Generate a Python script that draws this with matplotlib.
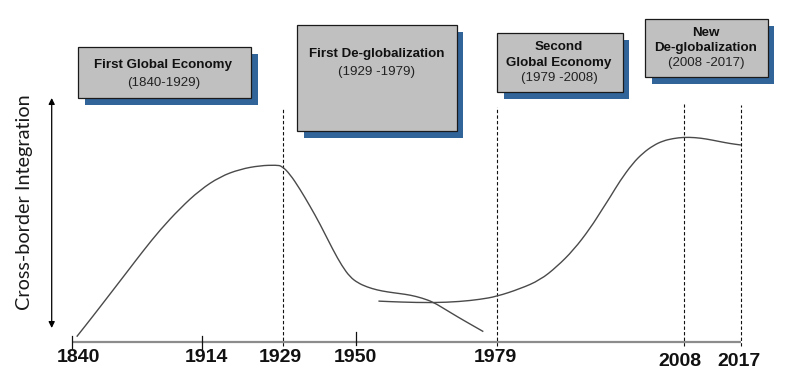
import numpy as np
import matplotlib
matplotlib.use("Agg")
import matplotlib.pyplot as plt
from matplotlib.patches import Rectangle, PathPatch
from matplotlib.path import Path
from matplotlib.transforms import IdentityTransform

# ---------------- data ----------------
tick_years = [1840, 1914, 1929, 1950, 1979, 2008, 2017]
tick_labels = ["1840", "1914", "1929", "1950", "1979", "2008", "2017"]
# relative position of each year along the drawn (non-linear) timeline
timeline_pos = [0, 129.5, 211, 283.5, 425, 611.5, 669]

# first curve: first global economy and de-globalization (index 0-100)
curve1_years = [1842.7, 1852.0, 1861.7, 1871.4, 1880.6, 1890.3, 1901.7, 1913.1,
                1917.4, 1921.1, 1924.8, 1927.8, 1928.8, 1931.0, 1933.9, 1936.8,
                1939.7, 1943.5, 1946.1, 1948.4, 1950.5, 1952.4, 1954.4, 1956.5,
                1959.1, 1961.2, 1963.6, 1965.9, 1968.3, 1971.0, 1973.5, 1976.2]
curve1_vals = [2.2, 10.7, 19.8, 28.9, 37.6, 46.3, 55.2, 62.8,
               68.3, 71.4, 72.9, 73.1, 72.7, 69.4, 63.2, 56.2,
               48.8, 38.0, 31.4, 26.9, 24.4, 22.7, 21.5, 20.7,
               20.0, 19.4, 18.2, 16.5, 13.6, 10.3, 7.4, 4.3]

# second curve: second global economy and new de-globalization
curve2_years = [1954.7, 1959.1, 1965.9, 1971.4, 1975.5, 1978.9, 1982.6, 1985.7,
                1988.3, 1990.9, 1993.5, 1995.5, 1996.6, 1998.1, 2000.1, 2001.7,
                2003.3, 2004.8, 2006.4, 2008.0, 2009.8, 2011.6, 2013.7, 2015.3,
                2017.0]
curve2_vals = [16.9, 16.5, 16.2, 16.7, 17.6, 18.8, 22.0, 25.6,
               31.1, 38.0, 47.0, 55.4, 59.9, 66.5, 73.8, 78.1,
               81.2, 83.1, 84.1, 84.6, 84.5, 83.9, 82.8, 82.0,
               81.4]

period_years = [1929, 1979, 2008, 2017]
period_tops = [96.7, 97.2, 98.3, 97.9]
solid_tick_years = [1840, 1914, 1950]

box_titles = ["First Global Economy", "First De-globalization",
              "Second\nGlobal Economy", "New\nDe-globalization"]
box_ranges = ["(1840-1929)", "(1929 -1979)", "(1979 -2008)", "(2008 -2017)"]

# ---------------- layout ----------------
W, H = 786, 384
fig = plt.figure(figsize=(W / 100, H / 100), dpi=100)

# background axes in pixel units for annotations
bg = fig.add_axes([0, 0, 1, 1])
bg.set_xlim(0, W)
bg.set_ylim(H, 0)
bg.axis("off")

# data axes
x0, x1, ybase, ytop = 72, 741, 342, 100
ax = fig.add_axes([x0 / W, (H - ybase) / H, (x1 - x0) / W, (ybase - ytop) / H])
ax.patch.set_alpha(0)


def fwd(x):
    return np.interp(x, tick_years, timeline_pos)


def inv(p):
    return np.interp(p, timeline_pos, tick_years)


ax.set_xscale("function", functions=(fwd, inv))
ax.set_xlim(tick_years[0], tick_years[-1])
ax.set_ylim(0, 100)
for s in ax.spines.values():
    s.set_visible(False)
ax.set_xticks([])
ax.set_yticks([])
ax.minorticks_off()

# baseline
ax.plot([tick_years[0], tick_years[-1]], [0, 0], color="#8c8c8c", lw=1.6,
        clip_on=False, solid_capstyle="butt", zorder=2)

# dashed period lines
for yr, top in zip(period_years, period_tops):
    ax.plot([yr, yr], [-1.5, top], color="#111111", lw=0.8,
            dashes=(3, 2), clip_on=False, zorder=3)

# solid ticks
tick_ext = {1840: (-2.5, 2.5), 1914: (-3.0, 2.5), 1950: (-1.2, 4.3)}
for yr in solid_tick_years:
    lo, hi = tick_ext[yr]
    ax.plot([yr, yr], [lo, hi], color="#111111", lw=0.9, clip_on=False, zorder=3)


# curves: smooth quadratic Bezier through the points, after mapping them through the axes scale
def smooth_path(xs, ys):
    pts = ax.transData.transform(np.column_stack([xs, ys]))
    verts = [pts[0], (pts[0] + pts[1]) / 2]
    codes = [Path.MOVETO, Path.LINETO]
    for i in range(1, len(pts) - 1):
        verts += [pts[i], (pts[i] + pts[i + 1]) / 2]
        codes += [Path.CURVE3, Path.CURVE3]
    verts.append(pts[-1])
    codes.append(Path.LINETO)
    return Path(np.array(verts), codes)


for xs, ys in [(curve1_years, curve1_vals), (curve2_years, curve2_vals)]:
    fig.patches.append(PathPatch(smooth_path(xs, ys), facecolor="none", edgecolor="#4a4a4a",
                                 lw=1.0, transform=IdentityTransform(), figure=fig,
                                 zorder=4))

# tick labels
label_offsets = [(6, -15), (5, -15), (-3, -15), (0, -15), (-2, -15), (-3.5, -20), (-2, -20)]
for yr, lab, (dx, dy) in zip(tick_years, tick_labels, label_offsets):
    ax.annotate(lab, xy=(yr, 0), xytext=(dx, dy), textcoords="offset pixels",
                ha="center", va="center", fontsize=14, fontweight="bold",
                family=["Liberation Sans", "DejaVu Sans"], color="#111111",
                annotation_clip=False)

# y-axis double arrow and label
bg.annotate("", xy=(51.7, 98), xytext=(51.7, 328),
            arrowprops=dict(arrowstyle="<|-|>", color="black", lw=0.9,
                            mutation_scale=9, shrinkA=0, shrinkB=0))
bg.text(25, 202, "Cross-border Integration", rotation=90, ha="center", va="center",
        fontsize=14.3, family=["Lato", "DejaVu Sans"], color="#1a1a1a")

# boxes
boxes = [
    ((78.3, 47.3, 251, 98.3), 163.5, [65, 83]),
    ((297.3, 25, 456.7, 131), 376.5, [54.3, 71.7]),
    ((497.3, 33.3, 622.7, 91.7), 559, [46.7, 63.3, 78.3]),
    ((645, 19.3, 767.7, 76.7), 706, [33.3, 48.3, 63.3]),
]
sdx, sdy = 6.7, 7
for ((bx0, by0, bx1, by1), cx, ys), title, rng in zip(boxes, box_titles, box_ranges):
    bg.add_patch(Rectangle((bx0 + sdx, by0 + sdy), bx1 - bx0, by1 - by0,
                           facecolor="#31659a", edgecolor="none", zorder=1))
    bg.add_patch(Rectangle((bx0, by0), bx1 - bx0, by1 - by0,
                           facecolor="#c0c0c0", edgecolor="#1a1a1a", lw=0.9, zorder=2))
    lines = title.split("\n")
    for ln, yy in zip(lines, ys):
        bg.text(cx, yy, ln, ha="center", va="center", fontsize=9.6, fontweight="bold",
                family=["Liberation Sans", "DejaVu Sans"], color="#111111", zorder=3)
    bg.text(cx, ys[len(lines)], rng, ha="center", va="center", fontsize=9.6,
            family=["Liberation Sans", "DejaVu Sans"], color="#222222", zorder=3)

fig.savefig("out.png", dpi=100)
